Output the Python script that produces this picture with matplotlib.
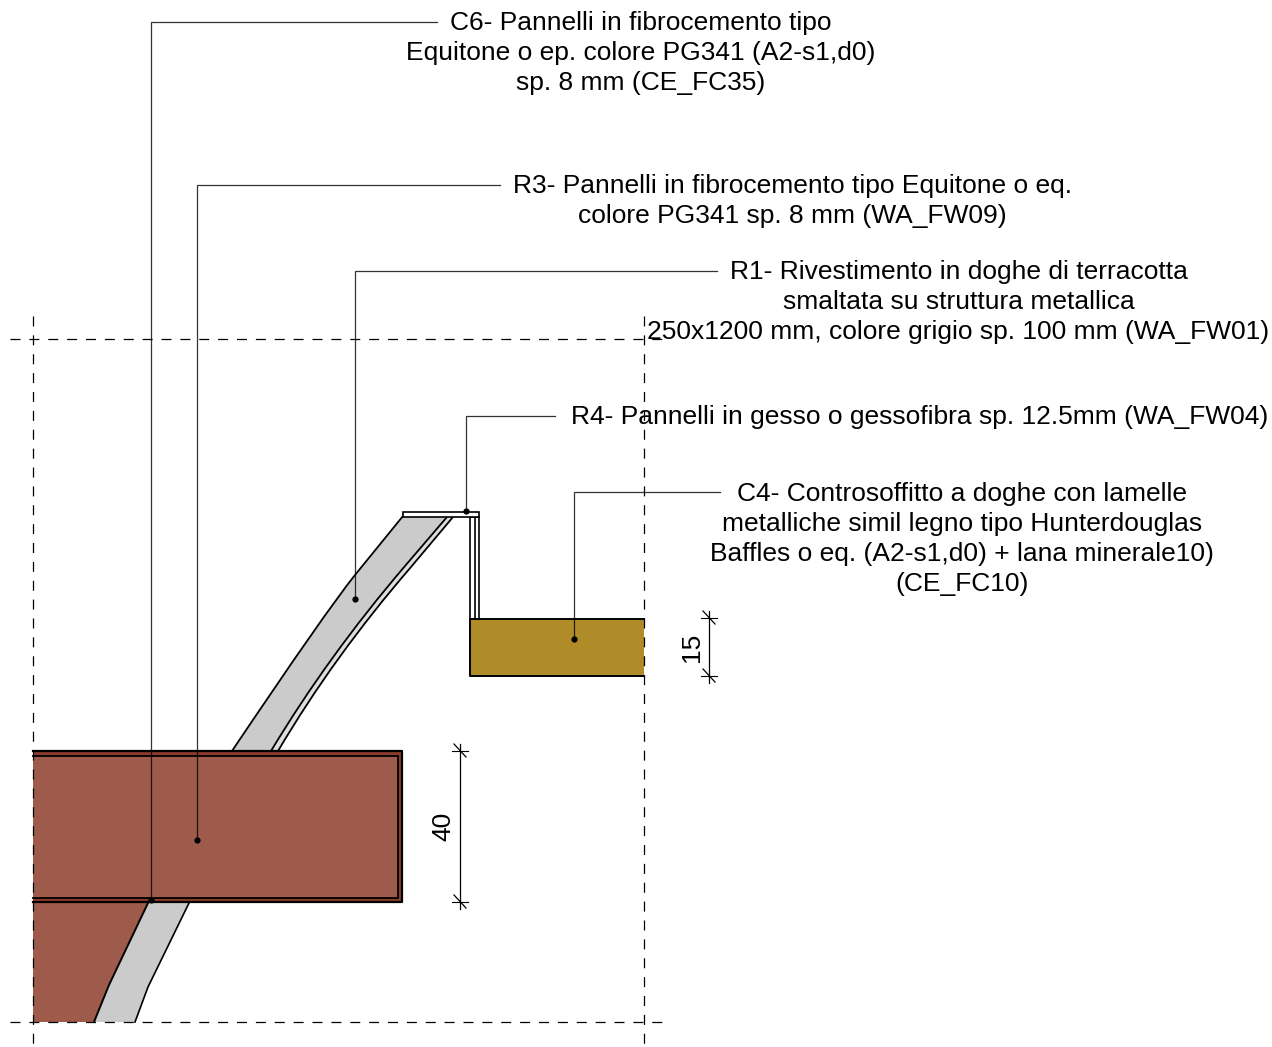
import matplotlib.pyplot as plt
from matplotlib.patches import PathPatch, Polygon, Rectangle
from matplotlib.path import Path

plt.rcParams['font.family'] = ['Liberation Sans', 'DejaVu Sans']

W = 1272
H = 1047

# note texts, one per callout, with their center x and the y of the first line
notes = [
    "C6- Pannelli in fibrocemento tipo\nEquitone o ep. colore PG341 (A2-s1,d0)\nsp. 8 mm (CE_FC35)",
    "R3- Pannelli in fibrocemento tipo Equitone o eq.\ncolore PG341 sp. 8 mm (WA_FW09)",
    "R1- Rivestimento in doghe di terracotta\nsmaltata su struttura metallica\n250x1200 mm, colore grigio sp. 100 mm (WA_FW01)",
    "R4- Pannelli in gesso o gessofibra sp. 12.5mm (WA_FW04)",
    "C4- Controsoffitto a doghe con lamelle\nmetalliche simil legno tipo Hunterdouglas\nBaffles o eq. (A2-s1,d0) + lana minerale10)\n(CE_FC10)",
]
note_x = [640.5, 792.5, 958.5, 920, 962]
note_y = [11, 174, 260, 405, 482]

# leader lines: start at the text, elbow, end on the dot
leader_x = [[437, 151, 151], [500, 197, 197], [717, 355, 355], [555, 466, 466], [720, 574, 574]]
leader_y = [[22, 22, 900], [185, 185, 840], [271, 271, 599], [416, 416, 511], [492, 492, 639]]

# upper panel edges: top point, end of straight part, curve control, bottom point
panel_left_x = [403, 355, 326, 232]
panel_left_y = [516, 575, 611, 751]
panel_right_x = [447, 405, 328, 271]
panel_right_y = [517, 566, 656, 751]
strip_x = [453, 411, 334, 278]
strip_y = [517, 567, 656, 751]

lower_brick_x = [33, 148, 109, 94, 33]
lower_brick_y = [903, 903, 985, 1022, 1022]
lower_panel_x = [148, 189, 148, 135, 94, 109]
lower_panel_y = [903, 903, 987, 1022, 1022, 985]

# dimensions
dim_x = [460, 709]
dim_top = [751, 618]
dim_bottom = [902, 676]
dim_text = ["40", "15"]
dim_text_x = [443, 692]

BRICK = '#9E5A4A'
BRICK_DARK = '#8A3B2B'
GOLD = '#AF8C28'
GREY = '#CBCBCB'


def edge(xs, ys):
    return Path(list(zip(xs, ys)), [Path.MOVETO, Path.LINETO, Path.CURVE3, Path.CURVE3])


def band(xa, ya, xb, yb):
    # closed shape between two edges
    verts = list(zip(xa, ya)) + list(zip(xb[::-1], yb[::-1])) + [(xa[0], ya[0])]
    codes = [Path.MOVETO, Path.LINETO, Path.CURVE3, Path.CURVE3,
             Path.LINETO, Path.CURVE3, Path.CURVE3, Path.LINETO, Path.CLOSEPOLY]
    return Path(verts, codes)


fig = plt.figure(figsize=(W / 100, H / 100), dpi=100)
ax = fig.add_axes([0, 0, 1, 1])
ax.set_xlim(0, W)
ax.set_ylim(H, 0)
ax.axis('off')

# upper panel, grey body and thin outer strip
ax.add_patch(PathPatch(band(panel_left_x, panel_left_y, panel_right_x, panel_right_y),
                       fc=GREY, ec='none', zorder=1))
ax.add_patch(PathPatch(band(panel_right_x, panel_right_y, strip_x, strip_y),
                       fc='#DEDEDE', ec='none', zorder=1))
for xs, ys in [(panel_left_x, panel_left_y), (panel_right_x, panel_right_y), (strip_x, strip_y)]:
    ax.add_patch(PathPatch(edge(xs, ys), fc='none', ec='k', lw=1.3, zorder=2))

# metal flashing
ax.add_patch(Rectangle((403, 511.5), 76, 5, fc='white', ec='k', lw=1.2, zorder=3))
ax.add_patch(Rectangle((470, 516.5), 9, 102, fc='white', ec='k', lw=1.2, zorder=2))
ax.plot([475, 475], [516.5, 618], color='k', lw=1.2, zorder=2)

# ceiling block, open on the grid side
ax.add_patch(Rectangle((470, 618.5), 174, 57, fc=GOLD, ec='none', zorder=3))
ax.plot([644, 470, 470, 644], [618.5, 618.5, 675.5, 675.5], color='k', lw=1.4, zorder=4)

# brick beam with its darker rim, open on the grid side
ax.add_patch(Rectangle((33, 751), 369, 151, fc=BRICK_DARK, ec='none', zorder=3))
ax.add_patch(Rectangle((33, 755.5), 365, 142, fc=BRICK, ec='none', zorder=4))
ax.plot([33, 402, 402, 33], [751, 751, 902, 902], color='k', lw=1.6, zorder=5)
ax.plot([33, 398, 398, 33], [755.5, 755.5, 897.5, 897.5], color='k', lw=1.3, zorder=5)

# lower part
ax.add_patch(Polygon(list(zip(lower_brick_x, lower_brick_y)), fc=BRICK, ec='none', zorder=1))
ax.add_patch(Polygon(list(zip(lower_panel_x, lower_panel_y)), fc=GREY, ec='none', zorder=1))
ax.plot(lower_panel_x[1:4], lower_panel_y[1:4], color='k', lw=1.2, zorder=2)
ax.plot(lower_brick_x[1:4], lower_brick_y[1:4], color='k', lw=1.4, zorder=2)

# grid lines
dash = (0, (8, 7.1))
for x in [33, 644]:
    ax.plot([x, x], [316, H], color='k', lw=0.9, ls=dash, zorder=6)
for y in [339, 1022]:
    ax.plot([10, 662], [y, y], color='k', lw=0.9, ls=dash, zorder=6)

# leaders
for xs, ys in zip(leader_x, leader_y):
    ax.plot(xs, ys, color='k', lw=0.9, alpha=0.8, zorder=7, solid_joinstyle='miter')
    ax.plot(xs[-1], ys[-1], 'o', color='k', ms=4.5, mew=0, zorder=8)

for txt, x, y in zip(notes, note_x, note_y):
    ax.text(x, y, txt, ha='center', va='top', fontsize=19, color='k', linespacing=1.314, zorder=9)

# dimension lines with ticks
for x, y0, y1, txt, tx in zip(dim_x, dim_top, dim_bottom, dim_text, dim_text_x):
    ax.plot([x, x], [y0 - 7, y1 + 7], color='k', lw=0.9, zorder=5)
    for y in [y0, y1]:
        ax.plot([x - 8, x + 8], [y, y], color='k', lw=0.8, zorder=5)
        ax.plot([x - 6, x + 6], [y - 7, y + 6], color='k', lw=0.9, zorder=5)
    ax.text(tx, (y0 + y1) / 2, txt, rotation=90, ha='center', va='center', fontsize=19, color='k', zorder=9)

fig.savefig('out.png', dpi=100)
